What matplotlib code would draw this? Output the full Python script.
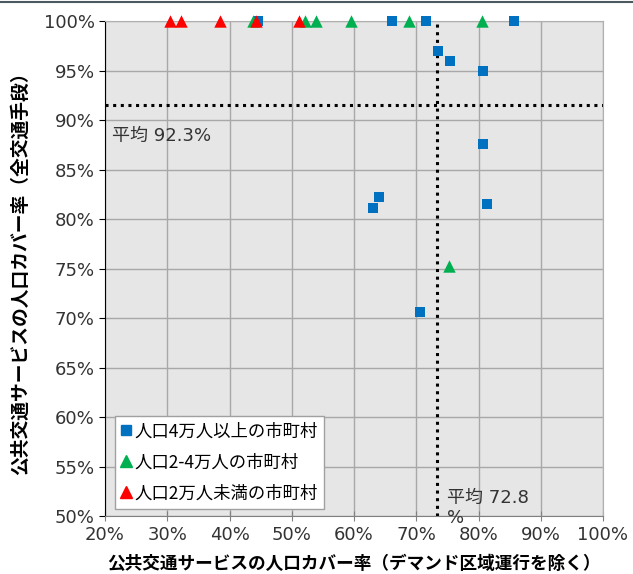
import matplotlib
matplotlib.use("Agg")
import matplotlib.pyplot as plt
from matplotlib.lines import Line2D
from matplotlib.ticker import FuncFormatter, MultipleLocator

plt.rcParams['font.family'] = ['Noto Sans CJK JP', 'DejaVu Sans']
wide = ['DejaVu Sans', 'Noto Sans CJK JP']   # wider digits, like the original

# data (x: excl. demand zone service, y: all modes), in %
big_x = [44.6, 66.1, 71.5, 85.7, 73.5, 75.5, 80.8, 80.8, 64.0, 63.0, 81.4, 70.6]
big_y = [100, 100, 100, 100, 97.0, 96.0, 95.0, 87.6, 82.2, 81.1, 81.5, 70.6]
mid_x = [43.7, 52.2, 53.9, 59.5, 68.8, 80.5, 75.3]
mid_y = [100, 100, 100, 100, 100, 100, 75.3]
small_x = [30.5, 32.2, 38.4, 44.3, 51.1]
small_y = [100, 100, 100, 100, 100]

mean_x = 73.3   # drawn position
mean_y = 91.5
mean_x_label = "平均 72.8\n%"
mean_y_label = "平均 92.3%"

series_labels = ["人口4万人以上の市町村", "人口2-4万人の市町村", "人口2万人未満の市町村"]
xlabel = "公共交通サービスの人口カバー率（デマンド区域運行を除く）"
ylabel = "公共交通サービスの人口カバー率（全交通手段）"

fig = plt.figure(figsize=(6.33, 5.74), dpi=100)
ax = fig.add_axes([0.1659, 0.1010, 0.7867, 0.8624])
ax.set_facecolor('#e6e6e6')

ax.set_xlim(20, 100)
ax.set_ylim(50, 100)
ax.xaxis.set_major_locator(MultipleLocator(10))
ax.yaxis.set_major_locator(MultipleLocator(5))
pct = FuncFormatter(lambda v, p: f"{v:.0f}%")
ax.xaxis.set_major_formatter(pct)
ax.yaxis.set_major_formatter(pct)
ax.grid(True, color='#a8a8a8', linewidth=1.0)
ax.set_axisbelow(True)

for s in ['top', 'right']:
    ax.spines[s].set_color('#b0b0b0')
ax.spines['left'].set_color('black')
ax.spines['bottom'].set_color('#808080')
ax.tick_params(axis='y', direction='out', length=4, colors='black', labelcolor='#333333', labelsize=13)
ax.tick_params(axis='x', direction='inout', length=7, colors='#808080', labelcolor='#333333', labelsize=13)
for lab in ax.get_xticklabels() + ax.get_yticklabels():
    lab.set_family(wide)

# mean lines
ax.axhline(mean_y, color='black', linewidth=2.2, linestyle=(0, (1, 1.5)), zorder=2)
ax.axvline(mean_x, color='black', linewidth=2.2, linestyle=(0, (1, 1.5)), zorder=2)

ax.scatter(big_x, big_y, marker='s', s=48, color='#0070c0', clip_on=False, zorder=3, linewidths=0)
ax.scatter(mid_x, mid_y, marker='^', s=80, color='#00b050', clip_on=False, zorder=4, linewidths=0)
ax.scatter(small_x, small_y, marker='^', s=80, color='#ff0000', clip_on=False, zorder=5, linewidths=0)

ax.text(21.2, 88.35, mean_y_label, fontsize=13, color='#333333', va='center', ha='left', family=wide)
ax.text(75.0, 50.8, mean_x_label, fontsize=13, color='#333333', va='center', ha='left',
        linespacing=1.1, family=wide)

ax.set_xlabel(xlabel, fontsize=12.7, fontweight='bold', labelpad=8)
ax.set_ylabel(ylabel, fontsize=13.5, fontweight='bold', labelpad=10)

handles = [
    Line2D([], [], marker='s', color='#0070c0', linestyle='none', markersize=7),
    Line2D([], [], marker='^', color='#00b050', linestyle='none', markersize=8),
    Line2D([], [], marker='^', color='#ff0000', linestyle='none', markersize=8),
]
leg = ax.legend(handles, series_labels, loc='lower left', bbox_to_anchor=(0.02, 0.015),
                fontsize=12.5, frameon=True, fancybox=False, framealpha=1,
                edgecolor='#a0a0a0', handlelength=0.6, handletextpad=0.15,
                borderpad=0.35, labelspacing=0.75, borderaxespad=0)
leg.get_frame().set_linewidth(1.0)

# thin dark rule across the top of the figure
fig.add_artist(Line2D([0, 1], [0.9965, 0.9965], transform=fig.transFigure,
                      color='#4a5860', linewidth=1.5))

fig.savefig('out.png', dpi=100)
